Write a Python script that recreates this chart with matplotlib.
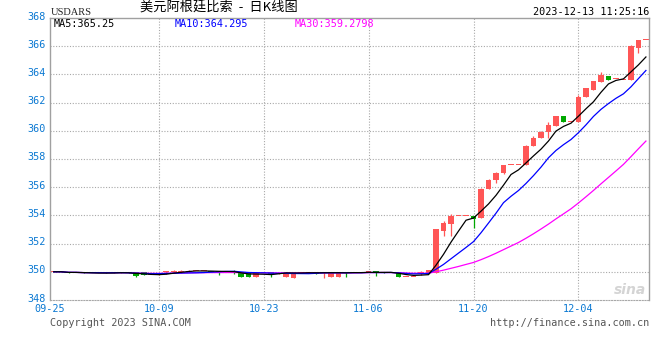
import matplotlib
matplotlib.use('Agg')
import matplotlib.pyplot as plt
import matplotlib.transforms as mtrans
import pandas as pd

# daily candles 2023-09-25 .. 2023-12-13 (one per calendar day)
opens = [350.00, 350.00, 350.00, 349.92, 350.00, 349.92, 349.92, 350.00, 349.95, 349.95,
         350.00, 349.98, 349.98, 349.75, 349.80, 350.02, 350.02, 350.02, 350.02, 350.06,
         350.06, 350.08, 350.02, 349.99, 350.04, 350.00, 350.00, 349.60, 349.95, 350.00,
         349.87, 349.60, 349.55, 349.92, 349.95, 350.00, 349.90, 349.60, 349.60, 350.00,
         349.90, 349.95, 349.96, 350.06, 350.02, 349.92, 349.96, 349.62, 349.62, 349.85,
         349.95, 349.95, 352.90, 353.38, 353.94, 353.94, 353.94, 353.84, 355.90, 356.50,
         357.00, 357.55, 357.55, 357.55, 358.90, 359.47, 359.90, 360.37, 361.07, 360.65,
         360.60, 362.37, 362.89, 363.48, 363.90, 363.67, 363.62, 363.62, 365.90, 366.42]
highs = [350.00, 350.00, 350.00, 349.95, 350.00, 349.92, 349.92, 350.00, 349.97, 349.97,
         350.00, 349.98, 349.98, 349.76, 349.90, 350.08, 350.10, 350.10, 350.10, 350.06,
         350.06, 350.08, 350.06, 350.02, 350.10, 350.00, 350.00, 350.00, 349.95, 350.00,
         349.95, 350.00, 350.00, 349.95, 349.95, 350.00, 349.98, 350.00, 350.00, 350.00,
         349.95, 349.95, 350.08, 350.06, 350.02, 349.95, 349.96, 349.62, 349.62, 350.04,
         350.12, 353.05, 353.60, 354.08, 353.94, 353.94, 353.94, 355.95, 356.60, 357.10,
         357.60, 357.55, 357.55, 359.00, 359.62, 360.00, 360.60, 361.07, 361.07, 360.65,
         362.57, 363.07, 363.55, 364.14, 363.90, 363.67, 363.62, 366.10, 366.45, 366.42]
lows = [350.00, 350.00, 349.88, 349.92, 349.88, 349.92, 349.92, 349.88, 349.95, 349.95,
        349.90, 349.62, 349.75, 349.75, 349.78, 349.84, 349.95, 349.95, 349.98, 350.06,
        350.06, 350.00, 349.80, 349.99, 349.82, 349.60, 349.60, 349.60, 349.95, 349.60,
        349.87, 349.60, 349.55, 349.92, 349.95, 349.87, 349.55, 349.60, 349.60, 349.65,
        349.90, 349.95, 349.96, 349.70, 349.92, 349.92, 349.60, 349.62, 349.62, 349.80,
        349.93, 349.93, 352.57, 352.57, 353.94, 353.94, 353.10, 353.84, 355.85, 356.30,
        356.95, 357.55, 357.55, 357.55, 358.90, 359.47, 359.47, 360.37, 360.60, 360.65,
        360.60, 362.37, 362.89, 363.48, 363.62, 363.67, 363.62, 363.62, 365.55, 366.42]
closes = [350.00, 350.00, 349.88, 349.95, 349.88, 349.92, 349.92, 349.88, 349.97, 349.97,
          349.90, 349.70, 349.75, 349.76, 349.88, 350.06, 350.06, 350.06, 350.06, 350.06,
          350.06, 350.01, 349.99, 350.01, 350.00, 349.62, 349.62, 349.95, 349.95, 349.87,
          349.90, 349.95, 349.92, 349.95, 349.95, 349.87, 349.96, 349.95, 349.95, 349.90,
          349.95, 349.95, 350.06, 349.92, 349.92, 349.95, 349.62, 349.62, 349.62, 350.02,
          350.10, 353.00, 353.47, 353.94, 353.94, 353.94, 353.78, 355.90, 356.50, 357.00,
          357.55, 357.55, 357.55, 358.95, 359.50, 359.94, 360.44, 361.07, 360.60, 360.65,
          362.42, 363.07, 363.55, 363.95, 363.62, 363.67, 363.62, 366.02, 366.45, 366.42]

dates = pd.date_range('2023-09-25', periods=len(closes), freq='D')
date_labels = ['09-25', '10-09', '10-23', '11-06', '11-20', '12-04']
y_ticks = [348, 350, 352, 354, 356, 358, 360, 362, 364, 366, 368]

ma_text = ['MA5:365.25', 'MA10:364.295', 'MA30:359.2798']
title = '美元阿根廷比索  -  日K线图'
symbol = 'USDARS'
stamp = '2023-12-13 11:25:16'

RED = '#ff5656'
GREEN = '#00a800'
BLUE_TXT = '#0a78d2'
GRID = '#a8a8a8'

df = pd.DataFrame({'o': opens, 'h': highs, 'l': lows, 'c': closes}, index=dates)
ma5 = df['c'].rolling(5, min_periods=1).mean()
ma10 = df['c'].rolling(10, min_periods=1).mean()
ma30 = df['c'].rolling(30, min_periods=1).mean()

fig = plt.figure(figsize=(6.6, 3.6), dpi=100)
ax = fig.add_axes([50 / 660, 1 - 300 / 360, 599.3 / 660, 282 / 360])

x = list(range(len(df)))
n = len(df)
ax.set_xlim(-0.5, n - 0.55)
ax.set_ylim(348, 368)

# grid
for v in y_ticks[1:-1]:
    ax.axhline(v, color=GRID, lw=0.8, ls=(0, (1, 1.5)), zorder=0)
tick_pos = [dates.get_loc(pd.Timestamp('2023-' + d)) for d in date_labels]
for p in tick_pos[1:]:
    ax.axvline(p, color=GRID, lw=0.8, ls=(0, (1, 1.5)), zorder=0)

# candles
for i in x:
    o, h, l, c = df['o'].iloc[i], df['h'].iloc[i], df['l'].iloc[i], df['c'].iloc[i]
    col = RED if c >= o else GREEN
    ax.vlines(i, l, h, color=col, lw=0.9, zorder=2)
    body = max(abs(c - o), 0.07)
    ax.bar(i, body, bottom=min(o, c), width=0.76, color=col, lw=0, zorder=2)

ax.plot(x, ma30.values, color='#ff00ff', lw=0.9, zorder=3)
ax.plot(x, ma10.values, color='#0000ff', lw=0.9, zorder=3)
ax.plot(x, ma5.values, color='black', lw=0.9, zorder=3)

# axes styling
for s in ['left', 'top', 'right']:
    ax.spines[s].set_color('#a0a0a0')
    ax.spines[s].set_linewidth(1)
ax.spines['bottom'].set_color(GRID)
ax.spines['bottom'].set_linestyle((0, (1, 1.5)))
ax.spines['bottom'].set_linewidth(0.8)

ax.set_yticks(y_ticks)
ax.set_yticklabels([str(v) for v in y_ticks])
ax.set_xticks([-0.5] + tick_pos[1:])
ax.set_xticklabels(date_labels)
ax.tick_params(length=0, labelsize=7.3, labelcolor=BLUE_TXT)
ax.tick_params(axis='y', pad=3)
ax.tick_params(axis='x', pad=3)
for lab in ax.get_yticklabels() + ax.get_xticklabels():
    lab.set_fontfamily('DejaVu Sans Mono')
shift = mtrans.ScaledTranslation(0, 2.5 / 100, fig.dpi_scale_trans)
for lab in ax.get_yticklabels():
    lab.set_transform(lab.get_transform() + shift)

def ftext(px, py, s, **kw):
    fig.text(px / 660, 1 - py / 360, s, **kw)

ftext(51, 12.5, symbol, family='Liberation Serif', fontsize=7.5, va='center', color='#222222')
ftext(140, 8.5, title, family=['Noto Sans CJK SC', 'DejaVu Sans'], fontsize=9.5, va='center', color='black')
ftext(649, 12, stamp, family='DejaVu Sans Mono', fontsize=7.3, va='center', ha='right', color='black')

ma_colors = ['black', '#0000ff', '#ff00ff']
ma_x = [54, 175, 295]
for t, cl, px in zip(ma_text, ma_colors, ma_x):
    ftext(px, 24, t, family='DejaVu Sans Mono', fontsize=7.3, va='center', color=cl)

ftext(50, 323.5, 'Copyright 2023 SINA.COM', family='DejaVu Sans Mono', fontsize=7.3,
      va='center', color='#555555')
ftext(649, 323.5, 'http://finance.sina.com.cn', family='DejaVu Sans Mono', fontsize=7.3,
      va='center', ha='right', color='#555555')
ftext(646, 290, 'sina', family='DejaVu Sans', fontsize=10, style='italic', weight='bold',
      va='center', ha='right', color='#d4d4d4')

fig.savefig('out.png', dpi=100)
